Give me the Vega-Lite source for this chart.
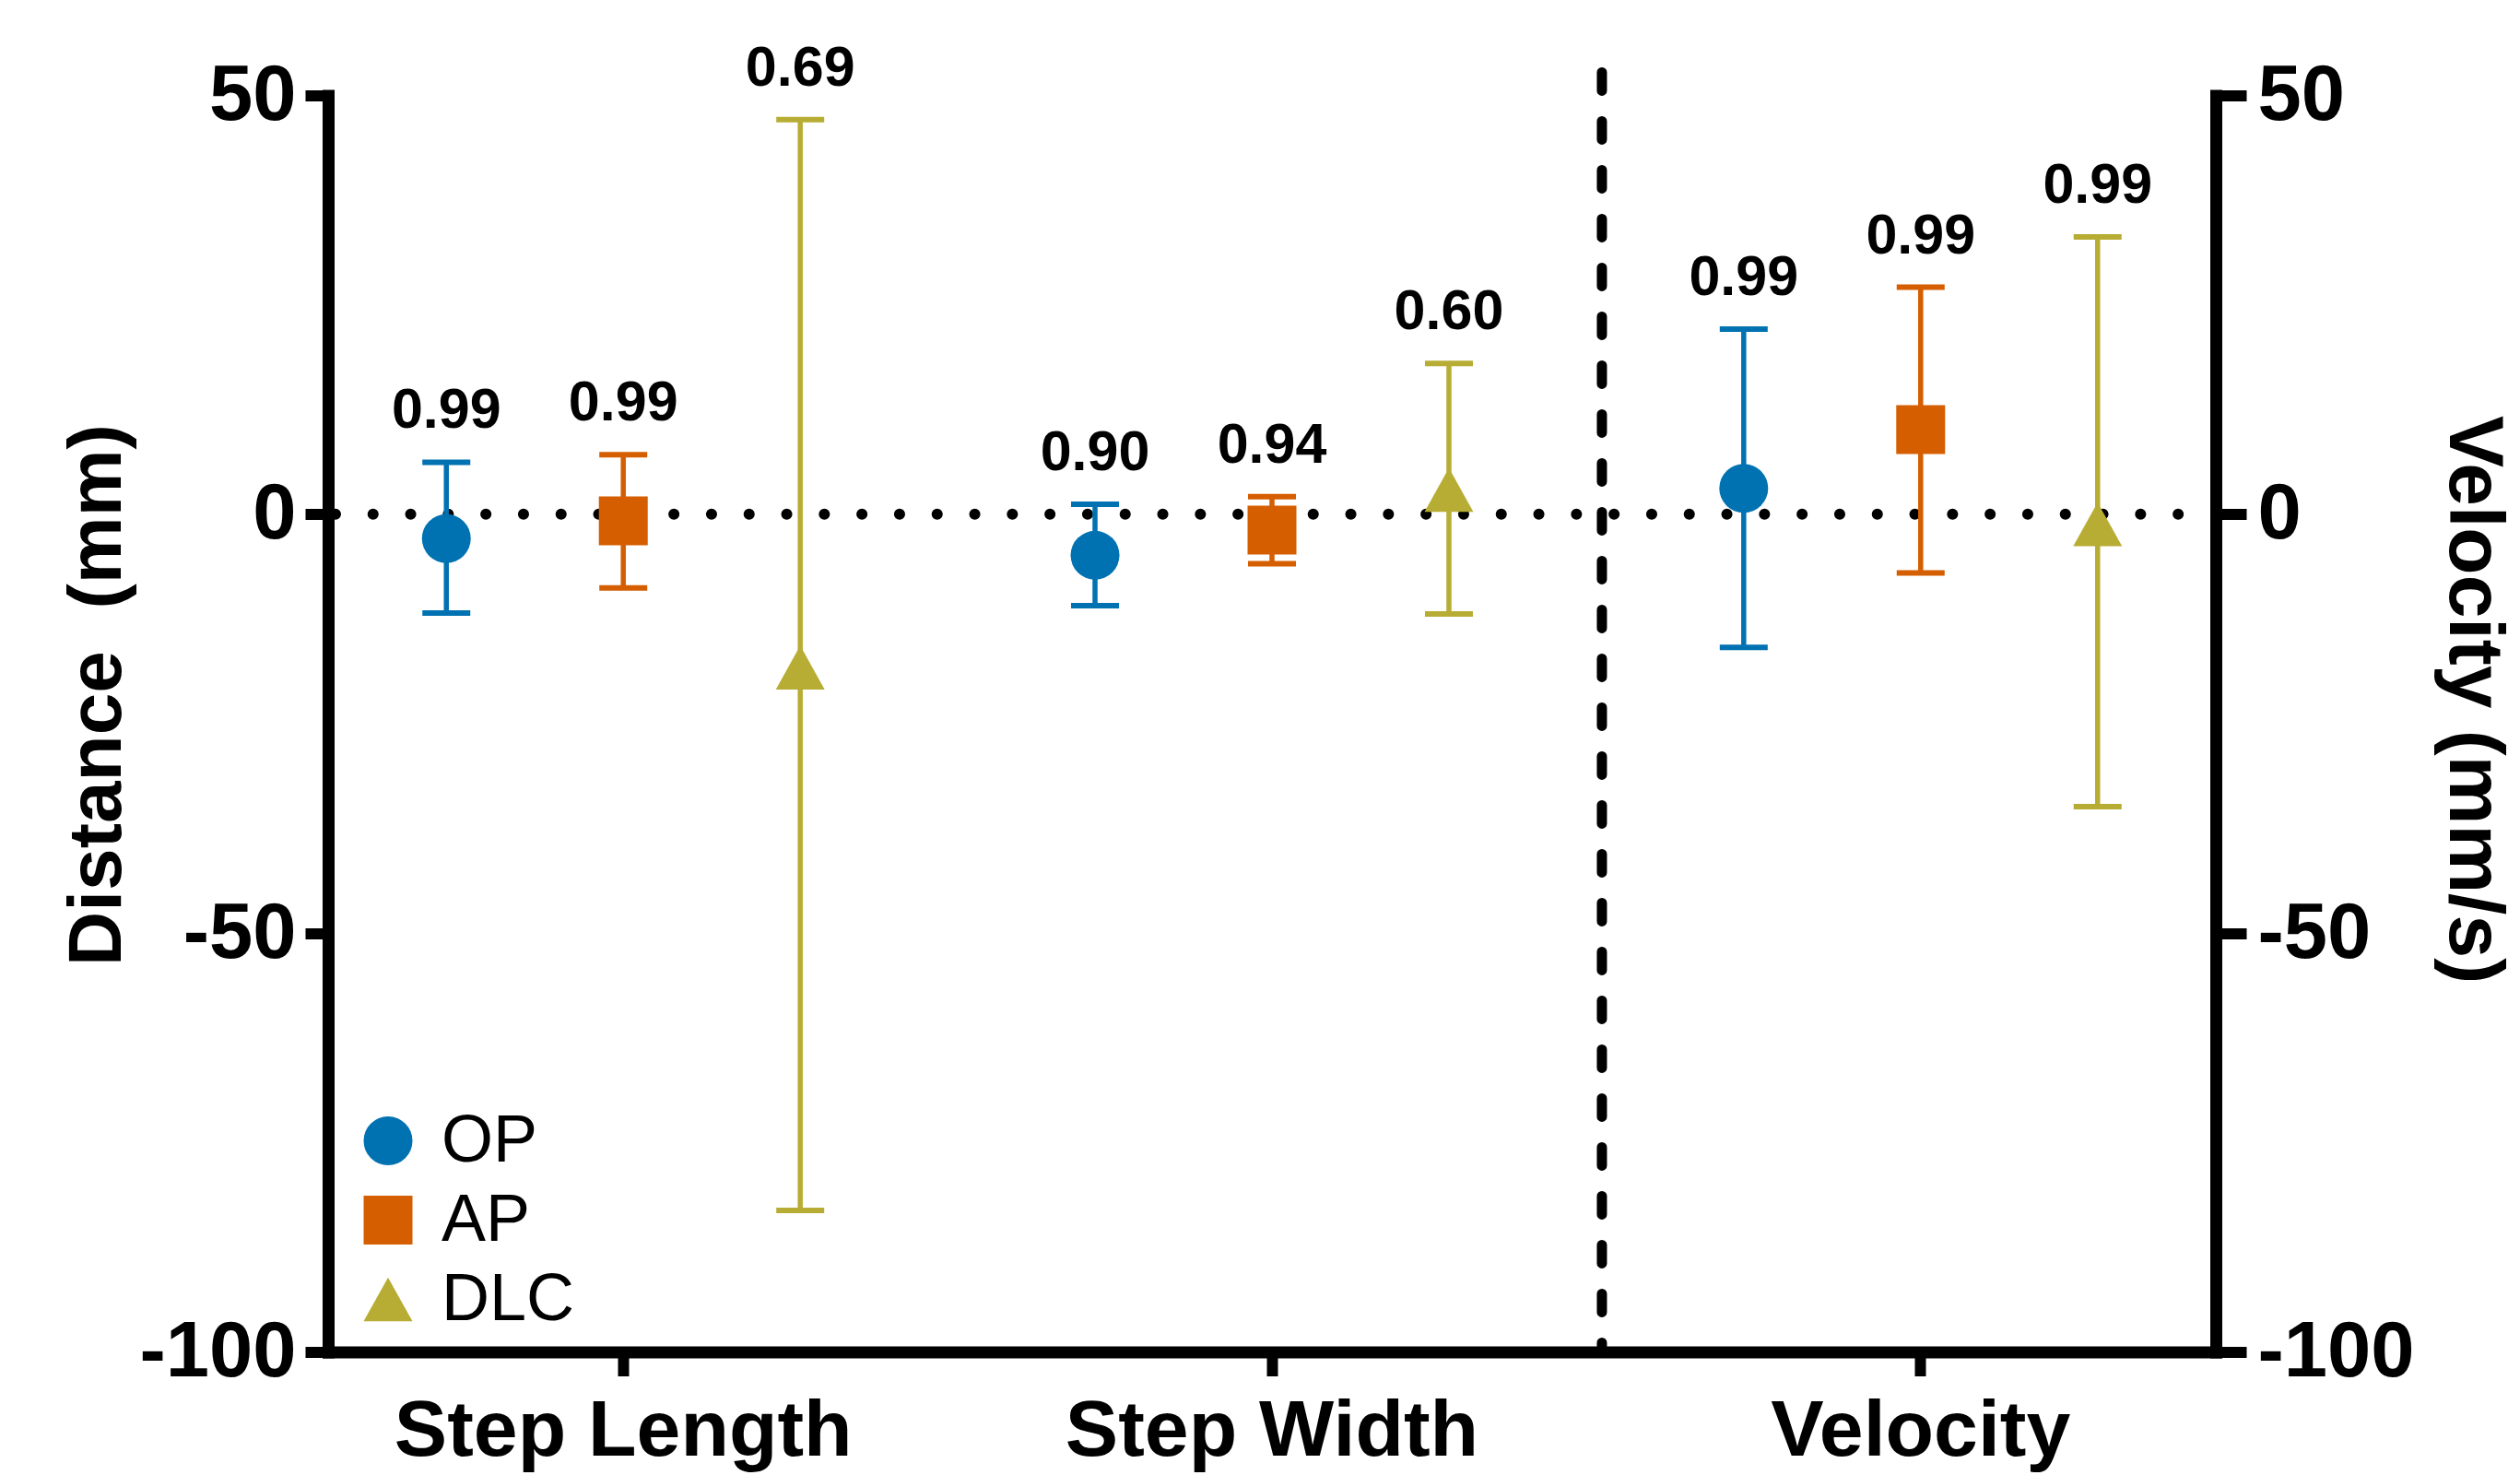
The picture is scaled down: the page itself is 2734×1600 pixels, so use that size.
{
  "$schema": "https://vega.github.io/schema/vega-lite/v6.json",
  "autosize": {"type": "none"},
  "width": 2048,
  "height": 1363,
  "padding": {"left": 356, "top": 103.5, "right": 330, "bottom": 133.5},
  "background": "white",
  "config": {
    "view": {"stroke": null},
    "font": "Liberation Sans",
    "axis": {"grid": false, "labelLimit": 0},
    "axisX": {"domainWidth": 13, "domainColor": "black", "domainCap": "square", "tickColor": "black", "tickWidth": 12, "tickSize": 26, "labelFontSize": 86, "labelFontWeight": "bold", "labelColor": "black", "labelBaseline": "alphabetic", "labelPadding": 86, "labelAngle": 0, "labelFont": "Liberation Sans", "labelLimit": 0},
    "axisLeft": {"domainWidth": 13, "domainColor": "black", "domainCap": "square", "tickColor": "black", "tickWidth": 12, "tickSize": 25, "labelFontSize": 85, "labelFontWeight": "bold", "labelColor": "black", "labelPadding": 10, "labelFont": "Liberation Sans", "labelLimit": 0, "labelExpr": "'' + datum.value", "titleFont": "Liberation Sans", "titleFontSize": 82, "titleFontWeight": "bold", "titleColor": "black", "titleAngle": -90, "titleX": -226, "titleY": 650, "titleBaseline": "alphabetic", "titleAlign": "center"},
    "axisRight": {"domainWidth": 13, "domainColor": "black", "domainCap": "square", "tickColor": "black", "tickWidth": 12, "tickSize": 33, "labelFontSize": 85, "labelFontWeight": "bold", "labelColor": "black", "labelPadding": 12, "labelFont": "Liberation Sans", "labelLimit": 0, "labelExpr": "'' + datum.value", "titleFont": "Liberation Sans", "titleFontSize": 84, "titleFontWeight": "bold", "titleColor": "black", "titleAngle": 90, "titleX": 253, "titleY": 655, "titleBaseline": "alphabetic", "titleAlign": "center", "titleLimit": 0},
    "legend": {"orient": "none", "legendX": 29, "legendY": 1098, "padding": 0, "labelFont": "Liberation Sans", "labelFontSize": 72, "labelColor": "black", "symbolSize": 2809, "symbolStrokeWidth": 0, "labelOffset": 22, "rowPadding": 14}
  },
  "datasets": {
    "stats": [
      {"measure": "Step Length", "group": "OP", "mean": -2.9, "lower": -11.8, "upper": 6.2, "r": "0.99"},
      {"measure": "Step Length", "group": "AP", "mean": -0.8, "lower": -8.8, "upper": 7.1, "r": "0.99"},
      {"measure": "Step Length", "group": "DLC", "mean": -18.3, "lower": -83.1, "upper": 47.1, "r": "0.69"},
      {"measure": "Step Width", "group": "OP", "mean": -4.9, "lower": -10.9, "upper": 1.2, "r": "0.90"},
      {"measure": "Step Width", "group": "AP", "mean": -1.9, "lower": -5.9, "upper": 2.1, "r": "0.94"},
      {"measure": "Step Width", "group": "DLC", "mean": 2.9, "lower": -11.9, "upper": 18.0, "r": "0.60"},
      {"measure": "Velocity", "group": "OP", "mean": 3.1, "lower": -15.9, "upper": 22.1, "r": "0.99"},
      {"measure": "Velocity", "group": "AP", "mean": 10.1, "lower": -7.0, "upper": 27.1, "r": "0.99"},
      {"measure": "Velocity", "group": "DLC", "mean": -1.2, "lower": -34.9, "upper": 33.1, "r": "0.99"}
    ],
    "zero": [{"ref": "zero line"}],
    "divider": [{"ref": "divider"}]
  },
  "resolve": {"scale": {"y": "independent"}, "axis": {"y": "independent"}},
  "layer": [
    {
      "data": {"name": "zero"},
      "mark": {"type": "rule", "color": "black", "strokeWidth": 12, "strokeCap": "round", "strokeDash": [0.1, 40.7]},
      "encoding": {
        "y": {"datum": 0, "type": "quantitative", "scale": {"domain": [-100, 50], "nice": false, "zero": false}, "title": "Velocity (mm/s)", "axis": {"orient": "right", "title": "Velocity (mm/s)", "values": [-100, -50, 0, 50]}}
      }
    },
    {
      "data": {"name": "stats"},
      "layer": [
        {
          "data": {"name": "divider"},
          "mark": {"type": "rule", "color": "black", "strokeWidth": 11, "strokeCap": "round", "strokeDash": [20, 33]},
          "encoding": {
            "x": {"datum": "Velocity", "type": "nominal", "bandPosition": -0.04, "scale": {"domain": ["Step Length", "Step Width", "Velocity"], "paddingInner": 0.09, "paddingOuter": 0}, "title": null},
            "y": {"datum": 52.76, "type": "quantitative", "scale": {"domain": [-100, 50], "nice": false, "zero": false}, "title": "Distance\u00a0\u00a0(mm)"},
            "y2": {"datum": -100}
          }
        },
        {
          "mark": {"type": "rule", "strokeWidth": 5.5},
          "encoding": {
            "x": {"field": "measure", "type": "nominal", "scale": {"domain": ["Step Length", "Step Width", "Velocity"], "paddingInner": 0.09, "paddingOuter": 0}, "title": null},
            "xOffset": {"field": "group", "type": "nominal", "scale": {"domain": ["OP", "AP", "DLC"], "paddingInner": 0, "paddingOuter": 0.168}},
            "y": {"field": "lower", "type": "quantitative", "scale": {"domain": [-100, 50], "nice": false, "zero": false}, "title": "Distance\u00a0\u00a0(mm)"},
            "y2": {"field": "upper"},
            "color": {"field": "group", "type": "nominal", "scale": {"domain": ["OP", "AP", "DLC"], "range": ["#0072B2", "#D55E00", "#B8AD34"]}, "title": null}
          }
        },
        {
          "mark": {"type": "tick", "size": 52, "thickness": 6, "opacity": 1},
          "encoding": {
            "x": {"field": "measure", "type": "nominal", "title": null},
            "xOffset": {"field": "group", "type": "nominal"},
            "y": {"field": "lower", "type": "quantitative", "title": "Distance\u00a0\u00a0(mm)"},
            "color": {"field": "group", "type": "nominal", "title": null}
          }
        },
        {
          "mark": {"type": "tick", "size": 52, "thickness": 6, "opacity": 1},
          "encoding": {
            "x": {"field": "measure", "type": "nominal", "title": null},
            "xOffset": {"field": "group", "type": "nominal"},
            "y": {"field": "upper", "type": "quantitative", "title": "Distance\u00a0\u00a0(mm)"},
            "color": {"field": "group", "type": "nominal", "title": null}
          }
        },
        {
          "mark": {"type": "point", "filled": true, "opacity": 1, "size": 2809, "strokeWidth": 0},
          "encoding": {
            "x": {"field": "measure", "type": "nominal", "title": null},
            "xOffset": {"field": "group", "type": "nominal"},
            "y": {"field": "mean", "type": "quantitative", "title": "Distance\u00a0\u00a0(mm)", "axis": {"orient": "left", "values": [-100, -50, 0, 50]}},
            "color": {"field": "group", "type": "nominal", "title": null},
            "shape": {"field": "group", "type": "nominal", "scale": {"domain": ["OP", "AP", "DLC"], "range": ["circle", "square", "M0,-0.9L1,0.9L-1,0.9Z"]}, "title": null}
          }
        },
        {
          "mark": {"type": "text", "fontSize": 61, "fontWeight": "bold", "font": "Liberation Sans", "color": "black", "baseline": "alphabetic", "align": "center", "dy": -37},
          "encoding": {
            "x": {"field": "measure", "type": "nominal", "title": null},
            "xOffset": {"field": "group", "type": "nominal"},
            "y": {"field": "upper", "type": "quantitative", "title": "Distance\u00a0\u00a0(mm)"},
            "text": {"field": "r", "type": "nominal"}
          }
        }
      ]
    }
  ]
}
